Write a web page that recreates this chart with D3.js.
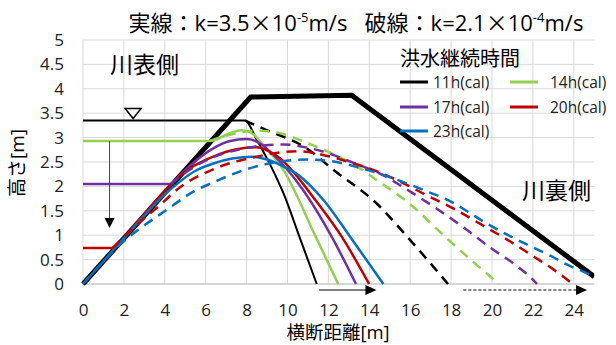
<!DOCTYPE html>
<html><head><meta charset="utf-8">
<script src="https://cdn.jsdelivr.net/npm/d3@7"></script>
<style>
html,body{margin:0;padding:0;background:#fff;}
svg{display:block;font-family:"Open Sans","Noto Sans CJK JP",sans-serif;}
</style></head>
<body><svg id="c" width="616" height="345"></svg>
<script>
const xTicks = [0,2,4,6,8,10,12,14,16,18,20,22,24];
const yTicks = [0,0.5,1,1.5,2,2.5,3,3.5,4,4.5,5];
const yTickLabels = ["0","0.5","1","1.5","2","2.5","3","3.5","4","4.5","5"];
const seriesNames = ["11h(cal)","14h(cal)","17h(cal)","20h(cal)","23h(cal)"];
const seriesColors = ["#000000","#92D050","#7030A0","#C00000","#0070C0"];

const embankment = [[0,0],[8.2,3.83],[13.14,3.87],[25,0.15]];

const solid11 = [[0,3.35],[7.92,3.35],[8.5,2.95],[9.23,2.38],[9.8,1.86],[10.6,0.95],[11.43,0]];
const solid14 = [[0,2.93],[6.2,2.93],[7.19,3.09],[7.76,3.15],[8.3,3.08],[8.66,2.92],[9.8,2.34],[11.38,0.97],[12.48,0]];
const solid17 = [[0,2.05],[4.3,2.05],[4.74,2.23],[5.5,2.52],[6.37,2.78],[7.2,2.93],[8.0,2.97],[8.66,2.88],[9.3,2.65],[10.04,2.32],[10.77,1.92],[12.16,0.97],[13.35,0]];
const solid20 = [[0,0.74],[1.45,0.74],[2.5,1.2],[3.5,1.68],[4.4,2.08],[5.2,2.36],[6.37,2.61],[7.5,2.76],[8.49,2.8],[9.0,2.74],[9.63,2.58],[10.2,2.34],[11.4,1.7],[12.65,0.97],[13.99,0]];
const solid23 = [[0,0],[1,0.47],[2,0.94],[3,1.4],[3.8,1.76],[4.74,2.1],[5.5,2.32],[6.37,2.47],[7.3,2.57],[8.25,2.61],[9.0,2.55],[9.7,2.43],[10.45,2.26],[11.8,1.7],[13.06,0.97],[14.69,0]];

const dashed11 = [[7.92,3.35],[9,3.15],[10.94,2.78],[12.24,2.34],[14.36,1.65],[16,0.9],[17.85,0]];
const dashed14 = [[6.2,2.93],[7.2,3.06],[8.4,3.14],[9.3,3.12],[10.3,3.0],[11.2,2.85],[12.3,2.65],[13.2,2.46],[14.4,2.12],[16.1,1.6],[17.5,1.05],[18.9,0.52],[20.35,0]];
const dashed17 = [[4.3,2.05],[5.0,2.28],[6.0,2.53],[7.0,2.69],[8.0,2.79],[8.66,2.83],[9.8,2.86],[10.9,2.8],[12.0,2.68],[13.0,2.52],[14.9,2.18],[15.6,2.0],[17.2,1.57],[18.8,1.1],[19.9,0.75],[21.05,0.42],[21.8,0.17],[22.2,0]];
const dashed20 = [[1.45,0.74],[2.5,1.16],[3.77,1.62],[4.74,1.98],[6.37,2.35],[8.49,2.61],[10.45,2.72],[11.9,2.63],[13.0,2.5],[14.6,2.27],[15.5,2.1],[16.75,1.83],[18.1,1.55],[19.55,1.2],[20.7,0.92],[22.05,0.56],[23.0,0.3],[23.95,0]];
const dashed23 = [[0,0],[1.8,0.8],[4.09,1.52],[5.56,1.93],[6.37,2.08],[7.19,2.23],[8.98,2.46],[10.94,2.55],[12.08,2.52],[13.7,2.36],[15.85,2.06],[16.8,1.9],[17.95,1.7],[18.75,1.5],[19.7,1.25],[20.7,1.02],[21.85,0.78],[22.85,0.58],[23.65,0.4],[24.65,0.22],[25,0.15]];

const solidSeries = [solid11, solid14, solid17, solid20, solid23];
const dashedSeries = [dashed11, dashed14, dashed17, dashed20, dashed23];

// annotations (data coords)
const levelDropArrow = [[1.3,2.93],[1.3,1.15]];
const waterMark = [2.45,3.35];
const solidReachArrow = [11.55,14.35];
const dashedReachArrow = [18.6,24.65];

const svg = d3.select("#c");
const x = d3.scaleLinear().domain([0,25]).range([83,594.25]);
const y = d3.scaleLinear().domain([0,5]).range([284,40]);

// gridlines
svg.append("g").selectAll("line").data(yTicks).join("line")
  .attr("x1",x(0)).attr("x2",x(25)).attr("y1",d=>y(d)).attr("y2",d=>y(d))
  .attr("stroke","#d9d9d9").attr("stroke-width",1);
svg.append("g").selectAll("line").data(xTicks).join("line")
  .attr("x1",d=>x(d)).attr("x2",d=>x(d)).attr("y1",y(0)).attr("y2",y(5))
  .attr("stroke","#d9d9d9").attr("stroke-width",1);
svg.append("line").attr("x1",x(0)).attr("x2",x(25)).attr("y1",y(0)).attr("y2",y(0))
  .attr("stroke","#bfbfbf").attr("stroke-width",1);

// axes labels
const xAxis = d3.axisBottom(x).tickValues(xTicks).tickSize(0).tickPadding(20).tickFormat(d3.format("d"));
const gx = svg.append("g").attr("transform",`translate(0,${y(0)})`).call(xAxis);
gx.select(".domain").remove();
gx.selectAll("text").attr("font-size","17px").attr("fill","#222").attr("font-family","'Open Sans',sans-serif");
const yAxis = d3.axisLeft(y).tickValues(yTicks).tickSize(0).tickPadding(19).tickFormat((d,i)=>yTickLabels[i]);
const gy = svg.append("g").attr("transform",`translate(${x(0)},0)`).call(yAxis);
gy.select(".domain").remove();
gy.selectAll("text").attr("font-size","17px").attr("fill","#222").attr("font-family","'Open Sans',sans-serif");

svg.append("clipPath").attr("id","pc").append("rect")
  .attr("x",x(0)-3).attr("y",y(5)-3).attr("width",x(25)-x(0)+3).attr("height",y(0)-y(5)+6);

const line = d3.line().x(d=>x(d[0])).y(d=>y(d[1]));
const smooth = d3.line().x(d=>x(d[0])).y(d=>y(d[1])).curve(d3.curveMonotoneX);

const plot = svg.append("g").attr("clip-path","url(#pc)");
plot.append("path").datum(embankment).attr("d",line).attr("fill","none")
  .attr("stroke","#000").attr("stroke-width",5).attr("stroke-linejoin","miter");

solidSeries.forEach((s,i)=>{
  plot.append("path").datum(s).attr("d",smooth).attr("fill","none")
    .attr("stroke",seriesColors[i]).attr("stroke-width",i===0?2:2.5);
});
dashedSeries.forEach((s,i)=>{
  plot.append("path").datum(s).attr("d",smooth).attr("fill","none")
    .attr("stroke",seriesColors[i]).attr("stroke-width",2.5).attr("stroke-dasharray","10,7");
});

// level drop arrow
svg.append("line").attr("x1",x(levelDropArrow[0][0])).attr("x2",x(levelDropArrow[1][0]))
  .attr("y1",y(levelDropArrow[0][1])).attr("y2",y(levelDropArrow[1][1])-8)
  .attr("stroke","#404040").attr("stroke-width",1);
{
  const ax=x(levelDropArrow[1][0]), ay=y(levelDropArrow[1][1]);
  svg.append("path").attr("d",`M${ax-5},${ay-10}L${ax+5},${ay-10}L${ax},${ay}Z`).attr("fill","#000");
}
// water mark triangle
{
  const tx=x(waterMark[0]), ty=y(waterMark[1])-2;
  svg.append("path").attr("d",`M${tx-8},${ty-10}L${tx+8},${ty-10}L${tx},${ty}Z`)
    .attr("fill","#fff").attr("stroke","#000").attr("stroke-width",1.5);
}
// bottom arrows
const arrowY = 290;
function hArrow(a,b,dashed){
  const x1=x(a), x2=x(b);
  svg.append("line").attr("x1",x1).attr("x2",x2-10).attr("y1",arrowY).attr("y2",arrowY)
    .attr("stroke","#000").attr("stroke-width",1.2).attr("stroke-dasharray",dashed?"3,2":null);
  svg.append("path").attr("d",`M${x2-11},${arrowY-5}L${x2},${arrowY}L${x2-11},${arrowY+5}Z`).attr("fill","#000");
}
hArrow(solidReachArrow[0],solidReachArrow[1],false);
hArrow(dashedReachArrow[0],dashedReachArrow[1],true);

// texts
const cjk = "'Noto Sans CJK JP',sans-serif";
const title = svg.append("text").attr("x",356).attr("y",31).attr("text-anchor","middle")
  .attr("font-size","22px").attr("fill","#000");
function titlePart(label, k, exp){
  title.append("tspan").attr("font-family",cjk).text(label+"：");
  title.append("tspan").text("k="+k);
  title.append("tspan").attr("font-family",cjk).text("×");
  title.append("tspan").text("10");
  title.append("tspan").attr("font-size","13px").attr("dy",-9).text(exp);
  title.append("tspan").attr("dy",9).text("m/s");
}
titlePart("実線","3.5","-5");
title.append("tspan").text("\u00a0\u00a0\u00a0");
titlePart("破線","2.1","-4");

svg.append("text").attr("x",110).attr("y",73).attr("font-size","23px").attr("fill","#000").text("川表側");
svg.append("text").attr("x",522).attr("y",199).attr("font-size","23px").attr("fill","#000").text("川裏側");

svg.append("text").attr("x",338).attr("y",339).attr("text-anchor","middle")
  .attr("font-size","18.5px").attr("fill","#000").text("横断距離[m]");
svg.append("text").attr("transform","translate(24,163) rotate(-90)").attr("text-anchor","middle")
  .attr("font-size","19px").attr("fill","#000").text("高さ[m]");

// legend
svg.append("text").attr("x",400).attr("y",66).attr("font-size","20px").attr("fill","#000").text("洪水継続時間");
const legendPos = [[400,82],[510,82],[400,107],[510,107],[400,131]];
seriesNames.forEach((n,i)=>{
  const [lx,ly]=legendPos[i];
  svg.append("line").attr("x1",lx).attr("x2",lx+28).attr("y1",ly).attr("y2",ly)
    .attr("stroke",seriesColors[i]).attr("stroke-width",3);
  svg.append("text").attr("x",lx+(i%2===0?33:40)).attr("y",ly+5.5).attr("font-size","15.5px")
    .attr("fill","#222").text(n);
});
</script></body></html>
